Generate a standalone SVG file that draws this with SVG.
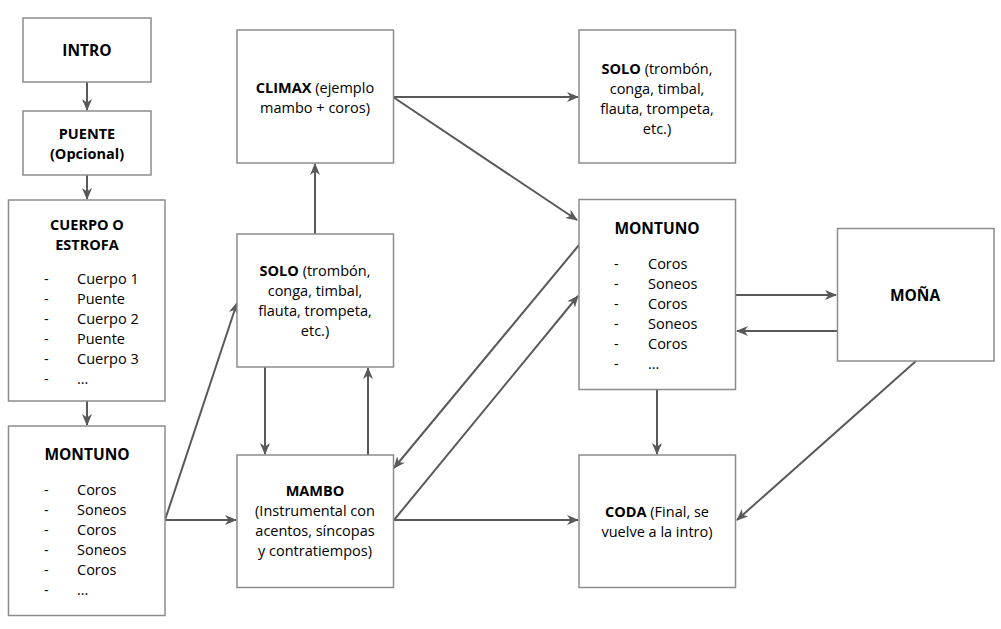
<svg xmlns="http://www.w3.org/2000/svg" width="1001" height="629" viewBox="0 0 1001 629">
<defs>
<style>
.box{fill:#fff;stroke:#8c8c8c;stroke-width:1.5}
text{font-family:"Open Sans","Noto Sans","DejaVu Sans",sans-serif;font-size:14.5px;fill:#000}
.c{text-anchor:middle}
.b{font-weight:bold}
.t{font-size:15.5px}
.edge{fill:none;stroke:#595959;stroke-width:2}
</style>
<marker id="ah" viewBox="0 0 12 10" refX="11" refY="5" markerWidth="12" markerHeight="10" markerUnits="userSpaceOnUse" orient="auto">
<path d="M0,0 L12,5 L0,10 L3.5,5 z" fill="#595959"/>
</marker>
</defs>
<rect width="1001" height="629" fill="#fff"/>
<g id="connectors">
<line class="edge" x1="87" y1="82" x2="87" y2="110" marker-end="url(#ah)"/>
<line class="edge" x1="87" y1="175" x2="87" y2="199" marker-end="url(#ah)"/>
<line class="edge" x1="87" y1="401" x2="87" y2="425" marker-end="url(#ah)"/>
<line class="edge" x1="165" y1="520" x2="236" y2="520" marker-end="url(#ah)"/>
<line class="edge" x1="165" y1="520" x2="237" y2="303" marker-end="url(#ah)"/>
<line class="edge" x1="265" y1="367" x2="265" y2="454" marker-end="url(#ah)"/>
<line class="edge" x1="368" y1="455" x2="368" y2="368" marker-end="url(#ah)"/>
<line class="edge" x1="315" y1="234" x2="315" y2="164" marker-end="url(#ah)"/>
<line class="edge" x1="393" y1="97" x2="578" y2="97" marker-end="url(#ah)"/>
<line class="edge" x1="393" y1="97" x2="577" y2="220" marker-end="url(#ah)"/>
<line class="edge" x1="579" y1="245" x2="394" y2="468" marker-end="url(#ah)"/>
<line class="edge" x1="394" y1="520" x2="578" y2="296" marker-end="url(#ah)"/>
<line class="edge" x1="394" y1="520" x2="578" y2="520" marker-end="url(#ah)"/>
<line class="edge" x1="736" y1="295" x2="836" y2="295" marker-end="url(#ah)"/>
<line class="edge" x1="837" y1="331" x2="737" y2="331" marker-end="url(#ah)"/>
<line class="edge" x1="657" y1="389" x2="657" y2="454" marker-end="url(#ah)"/>
<line class="edge" x1="916" y1="361" x2="737" y2="520" marker-end="url(#ah)"/>
</g>
<g id="intro">
<rect class="box" x="23" y="18" width="128" height="64"/>
<text class="c b t" x="87" y="55.5">INTRO</text>
</g>
<g id="puente">
<rect class="box" x="23" y="111" width="128" height="64"/>
<text class="c b" x="87" y="139">PUENTE<tspan x="87" y="159">(Opcional)</tspan></text>
</g>
<g id="cuerpo">
<rect class="box" x="8.5" y="200" width="156.5" height="201"/>
<text class="c b" x="87" y="230">CUERPO O<tspan x="87" y="250">ESTROFA</tspan></text>
<text><tspan x="44" y="284">-</tspan><tspan x="77" y="284">Cuerpo 1</tspan><tspan x="44" y="304">-</tspan><tspan x="77" y="304">Puente</tspan><tspan x="44" y="324">-</tspan><tspan x="77" y="324">Cuerpo 2</tspan><tspan x="44" y="344">-</tspan><tspan x="77" y="344">Puente</tspan><tspan x="44" y="364">-</tspan><tspan x="77" y="364">Cuerpo 3</tspan><tspan x="44" y="384">-</tspan><tspan x="77" y="384">…</tspan></text>
</g>
<g id="montuno-left">
<rect class="box" x="8.5" y="426" width="156.5" height="189.5"/>
<text class="c b t" x="87" y="459.5">MONTUNO</text>
<text><tspan x="44" y="495">-</tspan><tspan x="77" y="495">Coros</tspan><tspan x="44" y="515">-</tspan><tspan x="77" y="515">Soneos</tspan><tspan x="44" y="535">-</tspan><tspan x="77" y="535">Coros</tspan><tspan x="44" y="555">-</tspan><tspan x="77" y="555">Soneos</tspan><tspan x="44" y="575">-</tspan><tspan x="77" y="575">Coros</tspan><tspan x="44" y="595">-</tspan><tspan x="77" y="595">…</tspan></text>
</g>
<g id="climax">
<rect class="box" x="237" y="30" width="156.5" height="133"/>
<text class="c" x="315" y="92.5"><tspan class="b">CLIMAX</tspan> (ejemplo<tspan x="315" y="112.5">mambo + coros)</tspan></text>
</g>
<g id="solo-mid">
<rect class="box" x="237" y="234" width="156.5" height="133"/>
<text class="c" x="315" y="275.5"><tspan class="b">SOLO</tspan> (trombón,<tspan x="315" y="295.5">conga, timbal,</tspan><tspan x="315" y="315.5">flauta, trompeta,</tspan><tspan x="315" y="335.5">etc.)</tspan></text>
</g>
<g id="mambo">
<rect class="box" x="237" y="455" width="156.5" height="132.5"/>
<text class="c" x="315" y="496"><tspan class="b">MAMBO</tspan><tspan x="315" y="516">(Instrumental con</tspan><tspan x="315" y="536">acentos, síncopas</tspan><tspan x="315" y="556">y contratiempos)</tspan></text>
</g>
<g id="solo-top">
<rect class="box" x="579" y="30" width="156.5" height="133"/>
<text class="c" x="657" y="73.5"><tspan class="b">SOLO</tspan> (trombón,<tspan x="657" y="93.5">conga, timbal,</tspan><tspan x="657" y="113.5">flauta, trompeta,</tspan><tspan x="657" y="133.5">etc.)</tspan></text>
</g>
<g id="montuno-right">
<rect class="box" x="579" y="199.5" width="156.5" height="190"/>
<text class="c b t" x="657" y="233.5">MONTUNO</text>
<text><tspan x="614" y="268.5">-</tspan><tspan x="648" y="268.5">Coros</tspan><tspan x="614" y="288.5">-</tspan><tspan x="648" y="288.5">Soneos</tspan><tspan x="614" y="308.5">-</tspan><tspan x="648" y="308.5">Coros</tspan><tspan x="614" y="328.5">-</tspan><tspan x="648" y="328.5">Soneos</tspan><tspan x="614" y="348.5">-</tspan><tspan x="648" y="348.5">Coros</tspan><tspan x="614" y="368.5">-</tspan><tspan x="648" y="368.5">…</tspan></text>
</g>
<g id="mona">
<rect class="box" x="837.5" y="228.5" width="156.5" height="132.5"/>
<text class="c b t" x="915" y="300.5">MOÑA</text>
</g>
<g id="coda">
<rect class="box" x="579" y="455" width="156.5" height="132.5"/>
<text class="c" x="657" y="516.5"><tspan class="b">CODA</tspan> (Final, se<tspan x="657" y="536.5">vuelve a la intro)</tspan></text>
</g>
</svg>
